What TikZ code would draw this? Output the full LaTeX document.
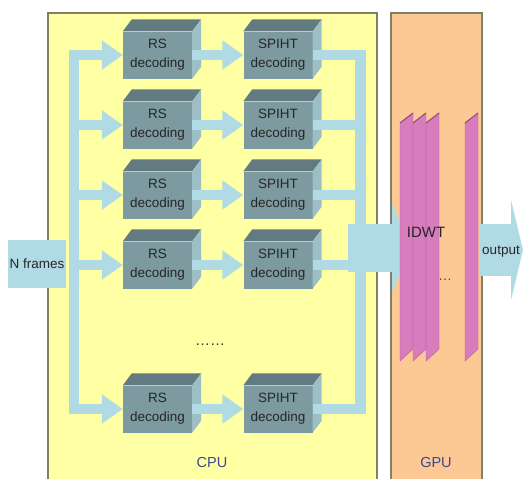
\documentclass[tikz,border=0pt]{standalone}
\usepackage{fontspec}
\setmainfont{Liberation Sans}
\usetikzlibrary{arrows.meta,positioning,calc}

\definecolor{cpuyellow}{RGB}{255,255,163}
\definecolor{gpupeach}{RGB}{252,200,148}
\definecolor{frameline}{RGB}{128,128,104}
\definecolor{pipeblue}{RGB}{176,218,228}
\definecolor{boxfront}{RGB}{124,154,160}
\definecolor{boxtop}{RGB}{98,122,128}
\definecolor{boxside}{RGB}{158,190,198}
\definecolor{planepink}{RGB}{216,124,190}
\definecolor{planeedge}{RGB}{150,80,120}
\definecolor{labelblue}{RGB}{62,72,140}

\tikzset{
  unitbox/.style={draw=frameline, line width=1.3pt},
  decoder/.style={rectangle, fill=boxfront, minimum width=69pt, minimum height=47pt,
    inner sep=0pt, align=center, text=black!85, font=\fontsize{13.5}{19}\selectfont},
  topface/.style={fill=boxtop},
  sideface/.style={fill=boxside},
  pipe/.style={draw=pipeblue, line width=10.5pt},
  feed/.style={pipe, -{Triangle[length=21pt,width=28pt]}},
  plane/.style={fill=planepink, draw=planepink!80!black, line width=0.4pt},
  tag/.style={font=\fontsize{13.5}{16}\selectfont, text=black!85, inner sep=0pt},
  unitlabel/.style={font=\fontsize{14.5}{16}\selectfont, text=labelblue}
}

\begin{document}
\begin{tikzpicture}[x=1pt,y=-1pt]
\useasboundingbox (0,0) rectangle (525,482);

% CPU and GPU areas
\fill[cpuyellow] (48,13) rectangle (377,479);
\draw[unitbox] (48,479) -- (48,13) -- (377,13) -- (377,479);
\fill[gpupeach] (391,13) rectangle (482,479);
\draw[unitbox] (391,479) -- (391,13) -- (482,13) -- (482,479);

% input frames
\node[fill=pipeblue, minimum width=58pt, minimum height=48pt, inner sep=0pt,
  font=\fontsize{13.5}{16}\selectfont, text=black!85] (frames) at (37,264) {N frames};

\coordinate (inbus) at (74,0);
\coordinate (outbus) at (360.5,0);

% decoder rows
\foreach \r/\y in {1/55,2/125,3/195,4/265,5/409} {
  \node[decoder] (rs\r) at (157.5,\y) {RS\\decoding};
  \node[decoder] (sp\r) at (278,\y) {SPIHT\\decoding};
  \foreach \b in {rs\r,sp\r} {
    \fill[topface] (\b.north west) -- ++(9,-12) -- ($(\b.north east)+(9,-12)$) -- (\b.north east) -- cycle;
    \fill[sideface] (\b.north east) -- ++(9,-12) -- ($(\b.south east)+(9,-12)$) -- (\b.south east) -- cycle;
  }
}

% input and output buses
\draw[pipe, line cap=rect] (inbus |- rs1) -- (inbus |- rs5);
\draw[pipe, line cap=rect] (outbus |- sp1) -- (outbus |- sp5);
\foreach \r in {1,...,5} {
  \draw[feed] (inbus |- rs\r) -- (rs\r.west);
  \draw[feed] (rs\r.east) -- (sp\r.west);
  \draw[pipe] (sp\r.east) -- (outbus |- sp\r);
}

\node[font=\fontsize{15}{16}\selectfont, text=black!80] (dots) at (210,345) {……};

% transfer to the GPU
\coordinate (gpuin) at (410,248);
\draw[pipe, line width=48pt, -{Triangle[length=18pt,width=90pt]}] (348,248) -- (gpuin);

% IDWT planes
\foreach \px in {400,413,426,465} {
  \filldraw[plane] (\px,123) -- ++(13,-10) -- ++(0,236) -- ++(-13,12) -- cycle;
  \draw[planeedge, line width=1.1pt] (\px,123) -- ++(13,-10);
}
\node[font=\fontsize{15}{16}\selectfont, text=black!85, inner sep=0pt] (idwt) at (426,232) {IDWT};
\node[font=\fontsize{14}{16}\selectfont, text=black!70, inner sep=0pt] (gdots) at (445,280) {…};

% output
\coordinate (outtip) at (523,250);
\draw[pipe, line width=52pt, -{Triangle[length=12pt,width=100pt]}] (480,250) -- (outtip);
\node[tag] (out) at (501,252) {output};

\node[unitlabel] (cpu) at (212,463) {CPU};
\node[unitlabel] (gpu) at (436,463) {GPU};
\end{tikzpicture}
\end{document}
